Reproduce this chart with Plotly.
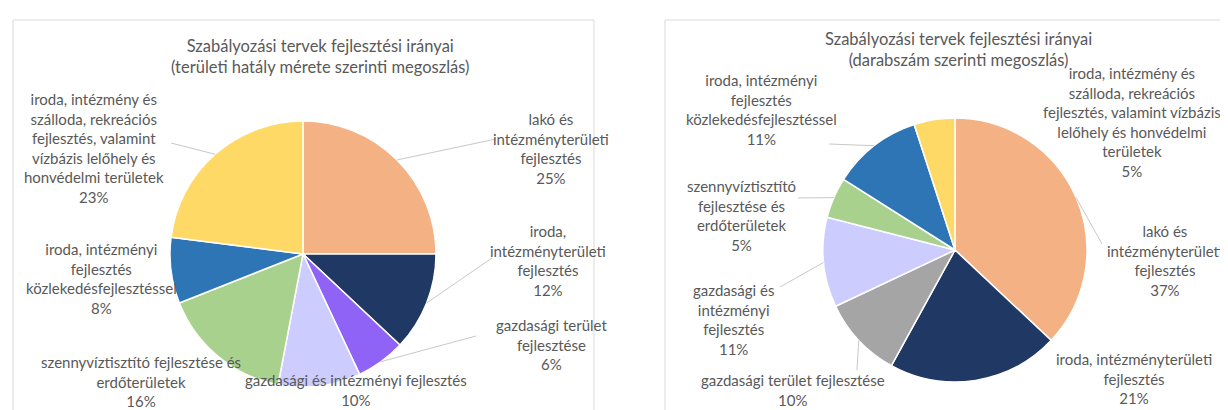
import math
import plotly.graph_objects as go

W, H = 1228, 410

# ---------------- data ----------------
categories = [
    "lakó és intézményterületi fejlesztés",
    "iroda, intézményterületi fejlesztés",
    "gazdasági terület fejlesztése",
    "gazdasági és intézményi fejlesztés",
    "szennyvíztisztító fejlesztése és erdőterületek",
    "iroda, intézményi fejlesztés közlekedésfejlesztéssel",
    "iroda, intézmény és szálloda, rekreációs fejlesztés, valamint vízbázis lelőhely és honvédelmi területek",
]
left_values = [25, 12, 6, 10, 16, 8, 23]      # területi hatály mérete szerint (%)
right_values = [37, 21, 10, 11, 5, 11, 5]     # darabszám szerint (%)

left_title = "Szabályozási tervek fejlesztési irányai<br>(területi hatály mérete szerinti megoszlás)"
right_title = "Szabályozási tervek fejlesztési irányai<br>(darabszám szerinti megoszlás)"

left_label_text = [
    "lakó és<br>intézményterületi<br>fejlesztés",
    "iroda,<br>intézményterületi<br>fejlesztés",
    "gazdasági terület<br>fejlesztése",
    "gazdasági és intézményi fejlesztés",
    "szennyvíztisztító fejlesztése és<br>erdőterületek",
    "iroda, intézményi<br>fejlesztés<br>közlekedésfejlesztéssel",
    "iroda, intézmény és<br>szálloda, rekreációs<br>fejlesztés, valamint<br>vízbázis lelőhely és<br>honvédelmi területek",
]
right_label_text = [
    "lakó és<br>intézményterületi<br>fejlesztés",
    "iroda, intézményterületi<br>fejlesztés",
    "gazdasági terület fejlesztése",
    "gazdasági és<br>intézményi<br>fejlesztés",
    "szennyvíztisztító<br>fejlesztése és<br>erdőterületek",
    "iroda, intézményi<br>fejlesztés<br>közlekedésfejlesztéssel",
    "iroda, intézmény és<br>szálloda, rekreációs<br>fejlesztés, valamint vízbázis<br>lelőhely és honvédelmi<br>területek",
]

left_colors = ["#F4B183", "#203864", "#8E63F5", "#CCCCFF", "#A9D18E", "#2E75B6", "#FFD966"]
right_colors = ["#F4B183", "#203864", "#A5A5A5", "#CCCCFF", "#A9D18E", "#2E75B6", "#FFD966"]

# ---------------- layout (pixels) ----------------
TEXT = "#595959"
FONT = "Lato"
LINE = "#C8C8C8"
LABEL_SIZE = 15
TITLE_SIZE = 16.5

charts = [
    dict(values=left_values, colors=left_colors, texts=left_label_text, title=left_title,
         box=(5, 12, 586, 420), title_xy=(312, 48), center=(295, 246), r=133,
         label_xy=[(543, 140), (540, 252), (543, 336), (348, 382), (133, 373), (93, 270), (86, 140)],
         leader_end=[(488, 131), (484, 250), (468, 328), None, None, None, (163, 135)]),
    dict(values=right_values, colors=right_colors, texts=right_label_text, title=right_title,
         box=(657, 12, 1226, 420), title_xy=(950, 42), center=(947, 242), r=132,
         label_xy=[(1157, 252), (1126, 370), (785, 382), (725, 311), (733, 207), (753, 101), (1124, 114)],
         leader_end=[(1094, 236), None, (849, 362), (772, 279), (790, 190), (821, 136), None]),
]


def px(x):
    return x / W


def py(y):
    return 1 - y / H


fig = go.Figure()
shapes = []
annotations = []

for c in charts:
    x0, y0, x1, y1 = c["box"]
    shapes.append(dict(type="rect", xref="paper", yref="paper",
                       x0=px(x0), x1=px(x1), y0=py(y1), y1=py(y0),
                       line=dict(color="#D9D9D9", width=1), fillcolor="rgba(0,0,0,0)", layer="below"))
    cx, cy = c["center"]
    r = c["r"]
    fig.add_trace(go.Pie(
        labels=categories, values=c["values"], sort=False, direction="clockwise", rotation=0,
        marker=dict(colors=c["colors"], line=dict(color="white", width=1.5)),
        textinfo="none", hoverinfo="label+percent", showlegend=False,
        domain=dict(x=[px(cx - r), px(cx + r)], y=[py(cy + r), py(cy - r)]),
    ))
    annotations.append(dict(text=c["title"], x=px(c["title_xy"][0]), y=py(c["title_xy"][1]),
                            xref="paper", yref="paper", showarrow=False, align="center",
                            xanchor="center", yanchor="middle",
                            font=dict(family=FONT, size=TITLE_SIZE, color=TEXT)))
    total = sum(c["values"])
    cum = 0
    for v, t, (lx, ly), end in zip(c["values"], c["texts"], c["label_xy"], c["leader_end"]):
        mid = (cum + v / 2) / total * 2 * math.pi
        cum += v
        if end is not None:
            ex, ey = cx + r * math.sin(mid), cy - r * math.cos(mid)
            shapes.append(dict(type="line", xref="paper", yref="paper",
                               x0=px(ex), y0=py(ey), x1=px(end[0]), y1=py(end[1]),
                               line=dict(color=LINE, width=1)))
        pct = round(v / total * 100)
        annotations.append(dict(text=f"{t}<br>{pct}%", x=px(lx), y=py(ly),
                                xref="paper", yref="paper", showarrow=False, align="center",
                                xanchor="center", yanchor="middle",
                                font=dict(family=FONT, size=LABEL_SIZE, color=TEXT)))

fig.update_layout(width=W, height=H, autosize=False,
                  margin=dict(l=0, r=0, t=0, b=0),
                  paper_bgcolor="white", plot_bgcolor="white",
                  shapes=shapes, annotations=annotations)

fig.write_html("out.html")
